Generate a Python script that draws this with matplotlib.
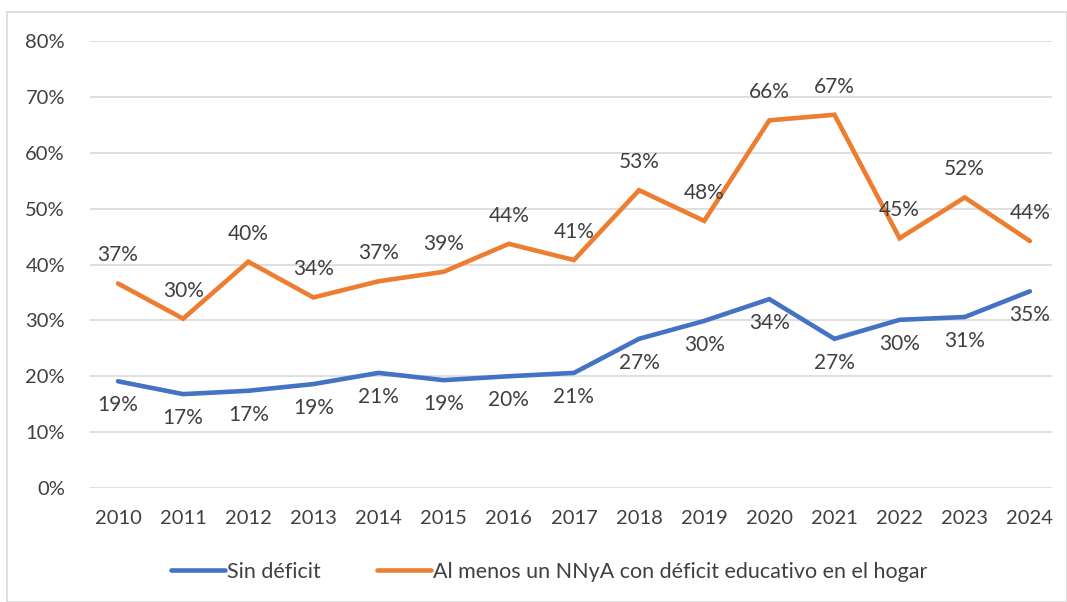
import matplotlib.pyplot as plt
from matplotlib.patches import Rectangle

plt.rcParams['font.family'] = ['Lato', 'DejaVu Sans']

years = ['2010', '2011', '2012', '2013', '2014', '2015', '2016', '2017',
         '2018', '2019', '2020', '2021', '2022', '2023', '2024']
sin_deficit = [19.1, 16.8, 17.4, 18.6, 20.6, 19.3, 20.0, 20.6,
               26.7, 29.9, 33.8, 26.7, 30.1, 30.6, 35.2]
con_deficit = [36.6, 30.3, 40.5, 34.1, 37.0, 38.7, 43.7, 40.8,
               53.3, 47.8, 65.8, 66.8, 44.7, 52.0, 44.2]

blue = '#4472C4'
orange = '#ED7D31'
txt = '#404040'

fig = plt.figure(figsize=(10.67, 6.02), dpi=100)
ax = fig.add_axes([90 / 1067, 114 / 602, 962 / 1067, 447 / 602])

x = range(len(years))
ax.plot(x, sin_deficit, color=blue, lw=3.3, solid_capstyle='round',
        solid_joinstyle='miter', label='Sin déficit')
ax.plot(x, con_deficit, color=orange, lw=3.3, solid_capstyle='round',
        solid_joinstyle='miter',
        label='Al menos un NNyA con déficit educativo en el hogar')

for i, v in enumerate(sin_deficit):
    ax.annotate(f'{v:.0f}%', (i, v), xytext=(0, -10), textcoords='offset points',
                ha='center', va='top', fontsize=15, color=txt)
for i, v in enumerate(con_deficit):
    ax.annotate(f'{v:.0f}%', (i, v), xytext=(0, 13), textcoords='offset points',
                ha='center', va='bottom', fontsize=15, color=txt)

ax.set_ylim(0, 80)
ax.set_yticks(range(0, 81, 10))
ax.set_yticklabels([f'{t}%' for t in range(0, 81, 10)])
ax.set_xlim(-0.43, 14.34)
ax.set_xticks(list(x))
ax.set_xticklabels(years)
ax.tick_params(axis='both', length=0, labelsize=14.5, colors=txt)
ax.tick_params(axis='y', pad=18)
ax.tick_params(axis='x', pad=16)
ax.grid(axis='y', color='#D9D9D9', lw=1.2)
ax.set_axisbelow(True)
for s in ax.spines.values():
    s.set_visible(False)

fig.legend(loc='center', bbox_to_anchor=(0.515, 1 - 572 / 602), ncol=2,
           frameon=False, fontsize=15.5, handlelength=2.5, handletextpad=0.1,
           columnspacing=2.6, labelcolor=txt)

fig.patches.append(Rectangle((7 / 1067, 0), 1 - 7 / 1067, 1 - 12 / 602,
                             transform=fig.transFigure, fill=False,
                             edgecolor='#D9D9D9', lw=1.2))

fig.savefig('out.png', dpi=100)
